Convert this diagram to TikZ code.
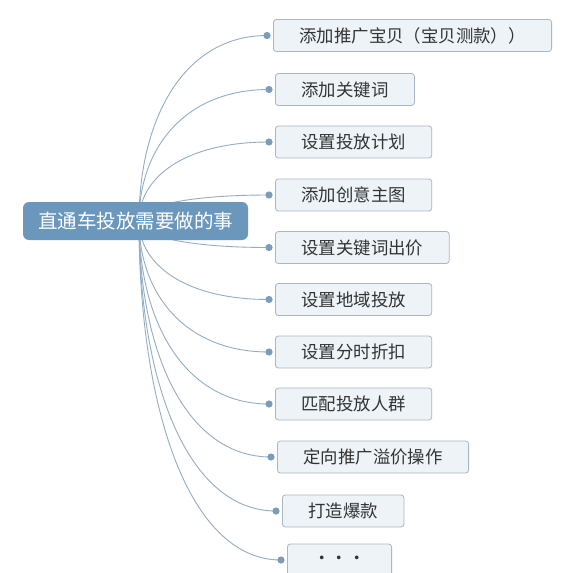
\documentclass[tikz,border=0pt]{standalone}
\usepackage{fontspec}
\newfontfamily\cjk{Noto Sans CJK SC}
\usepackage{xcolor}
\usepackage{tikz}
\usetikzlibrary{positioning,calc}

\definecolor{rootblue}{HTML}{6B97BC}
\definecolor{leaffill}{HTML}{EEF3F8}
\definecolor{leafdraw}{HTML}{A9B7C3}
\definecolor{linkblue}{HTML}{92AEC4}
\definecolor{knobblue}{HTML}{7C9DB8}
\definecolor{leaftext}{HTML}{333333}

\begin{document}
\begin{tikzpicture}[
    x=1pt,y=-1pt,
    topic/.style={fill=rootblue,rounded corners=6pt,text=white,
        font=\cjk\fontsize{19.5}{22}\selectfont,minimum height=38pt,inner xsep=15pt},
    leaf/.style={draw=leafdraw,fill=leaffill,rounded corners=3pt,text=leaftext,
        font=\cjk\fontsize{17.4}{20}\selectfont,minimum height=32pt,inner xsep=26pt,
        anchor=west,line width=0.8pt},
    link/.style={draw=linkblue,line width=0.9pt},
    knob/.style={fill=knobblue}
]
\useasboundingbox[fill=white] (0,0) rectangle (580,572);
\coordinate (hub) at (139,221);
% the branches
\node[leaf] (add item)  at (273,35.5) {添加推广宝贝（宝贝测款））};
\node[leaf] (add kw)    at (275,89.5) {添加关键词};
\node[leaf] (plan)      at (275,142)  {设置投放计划};
\node[leaf] (creative)  at (275,195)  {添加创意主图};
\node[leaf] (bid)       at (275,247.5){设置关键词出价};
\node[leaf] (region)    at (275,299.5){设置地域投放};
\node[leaf] (timing)    at (275,352)  {设置分时折扣};
\node[leaf] (crowd)     at (275,404)  {匹配投放人群};
\node[leaf] (premium)   at (277,457)  {定向推广溢价操作};
\node[leaf] (hit)       at (282,511)  {打造爆款};
\node[leaf] (more)      at (287,560)  {・・・};
% curves from the centre to each branch
\foreach \b in {add item,add kw,plan,creative,bid,region,timing,crowd,premium,hit,more}{
    \coordinate (\b-in) at ([xshift=-6pt]\b.west);
    \draw[link] (hub) .. controls ($(hub)!0.55!(hub |- \b-in)$)
        and ($(hub |- \b-in)!0.35!(\b-in)$) .. (\b-in);
    \fill[knob] (\b-in) circle (3.6pt);
}
\node[topic] (root) at (135.5,221) {直通车投放需要做的事};
\end{tikzpicture}
\end{document}
